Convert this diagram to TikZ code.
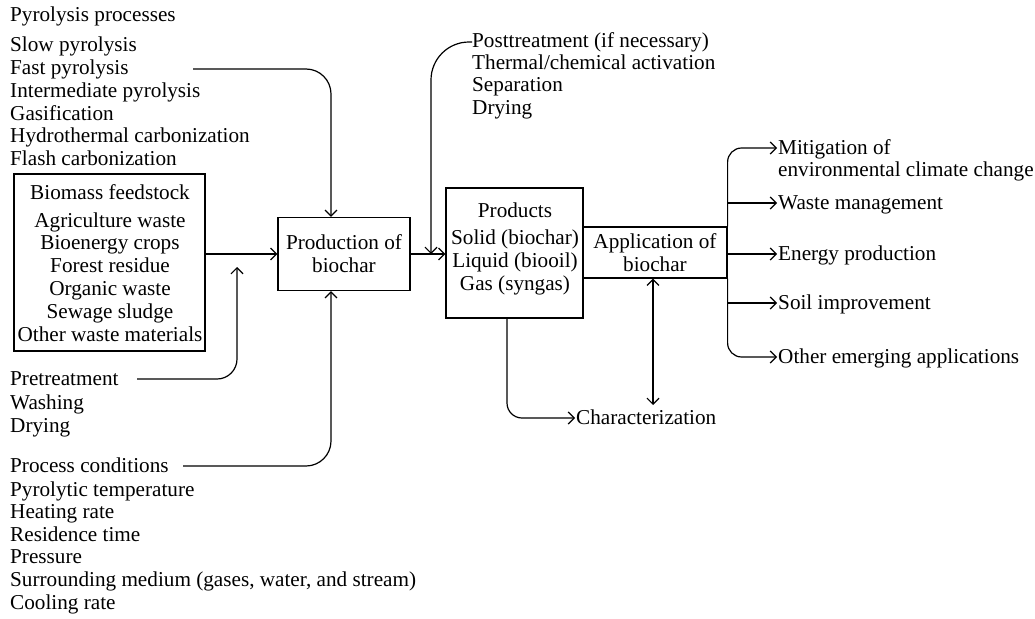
\documentclass[tikz,border=0pt]{standalone}
\usepackage{fontspec}
\setmainfont{Liberation Serif}
\usetikzlibrary{arrows.meta}
\begin{document}
\begin{tikzpicture}[x=1pt,y=-1pt,
  every node/.style={font=\fontsize{21.2}{22.8}\selectfont},
  txt/.style={inner sep=0pt, text height=16pt, text depth=4pt, anchor=west},
  ctxt/.style={inner sep=0pt, text height=16pt, text depth=4pt},
  box/.style={draw, line width=1.2pt, inner sep=0pt},
  arr/.style={line width=1.2pt, -{Straight Barb[length=6pt,width=12pt]}},
  darr/.style={line width=1.2pt, {Straight Barb[length=6pt,width=12pt]}-{Straight Barb[length=6pt,width=12pt]}}]
\useasboundingbox (0,0) rectangle (1035,618);

% Pyrolysis processes
\node[txt] (pyh) at (10,16) {Pyrolysis processes};
\foreach \t [count=\i] in {Slow pyrolysis, Fast pyrolysis, Intermediate pyrolysis, Gasification, Hydrothermal carbonization, Flash carbonization}
  \node[txt] (py\i) at (10,{46+22.7*(\i-1)}) {\t};

% Biomass feedstock box
\node[box, minimum width=191pt, minimum height=177pt] (bio) at (109.5,262.5) {};
\node[ctxt] (bioh) at (110,193) {Biomass feedstock};
\foreach \t [count=\i] in {Agriculture waste, Bioenergy crops, Forest residue, Organic waste, Sewage sludge, Other waste materials}
  \node[ctxt] (bio\i) at (110,{221+22.8*(\i-1)}) {\t};

% Main boxes
\node[box, minimum width=132pt, minimum height=73pt, align=center] (prod) at (344,254) {Production of\\biochar};
\node[box, minimum width=137pt, minimum height=130pt] (prodx) at (514.5,253) {};
\node[align=center, inner sep=0pt] (prodt) at (515,249) {Products\\[4pt]Solid (biochar)\\Liquid (biooil)\\Gas (syngas)};
\node[box, minimum width=144pt, minimum height=51pt, align=center] (app) at (655,252.5) {Application of\\biochar};

% Posttreatment
\node[txt] (post1) at (472,42) {Posttreatment (if necessary)};
\foreach \t [count=\i] in {Thermal/chemical activation, Separation, Drying}
  \node[txt] (post\i x) at (472,{63+22.5*(\i-1)}) {\t};

% Pretreatment
\node[txt] (pre) at (10,379) {Pretreatment};
\node[txt] (pre1) at (10,403) {Washing};
\node[txt] (pre2) at (10,426) {Drying};

% Process conditions
\node[txt] (pc) at (10,466) {Process conditions};
\foreach \t [count=\i] in {Pyrolytic temperature, Heating rate, Residence time, Pressure, {Surrounding medium (gases, water, and stream)}, Cooling rate}
  \node[txt] (pc\i) at (10,{490+22.6*(\i-1)}) {\t};

% Applications
\node[txt] (mit) at (778,148) {Mitigation of};
\node[txt] (mit2) at (778,170) {environmental climate change};
\node[txt] (waste) at (778,203) {Waste management};
\node[txt] (energy) at (778,254) {Energy production};
\node[txt] (soil) at (778,303) {Soil improvement};
\node[txt] (other) at (778,357) {Other emerging applications};
\node[txt] (char) at (576,418) {Characterization};

% Connectors
\coordinate (fpS) at (193,69);
\coordinate (pinx) at (331,0);
\draw[arr, rounded corners=25pt] (fpS) -| (pinx |- prod.north);
\coordinate (preS) at (137,379);
\coordinate (preE) at (237,267);
\draw[arr, rounded corners=20pt] (preS) -| (preE);
\coordinate (pcS) at (183,466);
\draw[arr, rounded corners=25pt] (pcS) -| (pinx |- prod.south);
\draw[arr] (bio.east |- prod.west) -- (prod.west);
\draw[arr] (prod.east) -- (prod.east -| prodx.west);
\coordinate (postE) at (431,254);
\draw[arr, rounded corners=38pt] (post1.west) -| (postE);

\coordinate (charV) at (653,405);
\draw[darr] (app.south -| charV) -- (charV);
\coordinate (charX) at (507,0);
\draw[arr, rounded corners=15pt, shorten >=1pt] (charX |- prodx.south) |- (char.west);

\draw[arr, rounded corners=14pt, shorten >=1pt] (app.north east) |- (mit.west);
\draw[arr, rounded corners=14pt, shorten >=1pt] (app.south east) |- (other.west);
\draw[arr, shorten >=1pt] (app.east |- waste.west) -- (waste.west);
\draw[arr, shorten >=1pt] (app.east |- energy.west) -- (energy.west);
\draw[arr, shorten >=1pt] (app.east |- soil.west) -- (soil.west);
\end{tikzpicture}
\end{document}
